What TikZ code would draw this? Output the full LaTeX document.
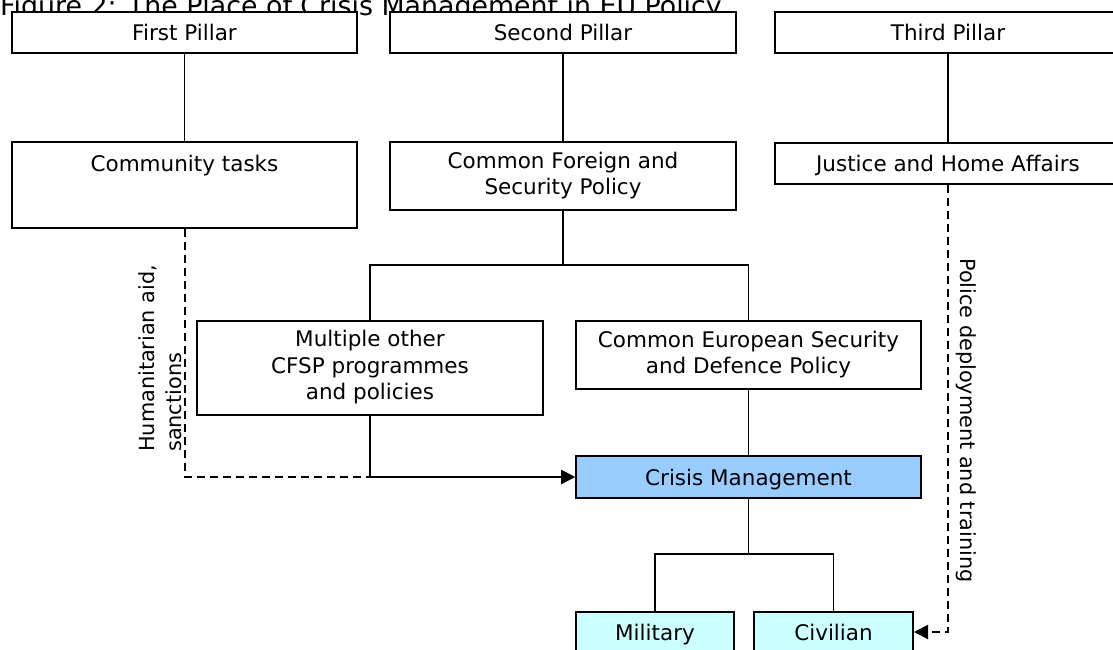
\documentclass[tikz,border=0pt]{standalone}
\usepackage{fontspec}
\setmainfont{DejaVu Sans}
\usetikzlibrary{arrows.meta}
\definecolor{cmblue}{HTML}{99CCFF}
\definecolor{cyanbox}{HTML}{CCFFFF}
\newcommand\topst{\rule{0pt}{22pt}}
\newcommand\botst[1]{\rule[-#1]{0pt}{#1}}
\tikzset{
  boxbase/.style={draw=black, line width=2pt, fill=white, inner sep=0pt, align=center,
    font=\fontsize{21.5}{26.3}\selectfont},
  box/.style={boxbase, execute at begin node=\topst, execute at end node=\botst{6pt}},
  conn/.style={line width=1.8pt},
  dconn/.style={line width=2pt, dash pattern=on 8pt off 5pt},
  tip/.style={-{Triangle[length=14pt,width=14pt]}},
  lbl/.style={inner sep=0pt, font=\fontsize{20.8}{27}\selectfont}
}
\begin{document}
\begin{tikzpicture}[x=1pt,y=-1pt]
\clip (0,0) rectangle (1113,650);
\fill[white] (0,0) rectangle (1113,650);
\node[lbl, anchor=base west, font=\fontsize{26.8}{30}\selectfont] (title) at (0,16) {Figure 2: The Place of Crisis Management in EU Policy};
% first row
\node[box, minimum width=345, minimum height=41] (p1) at (184.5,32.5) {First Pillar};
\node[box, minimum width=346, minimum height=41] (p2) at (563,32.5) {Second Pillar};
\node[box, minimum width=346, minimum height=41] (p3) at (948,32.5) {Third Pillar};
% second row
\node[boxbase, minimum width=345, minimum height=86] (ct) at (184.5,185) {\topst Community tasks\botst{48.6pt}};
\node[box, minimum width=346, minimum height=68] (cfsp) at (563,176) {Common Foreign and\\Security Policy};
\node[box, minimum width=346, minimum height=41] (jha) at (948,163.5) {Justice and Home Affairs};
% third row
\node[box, minimum width=346, minimum height=94] (mult) at (370,368) {Multiple other\\CFSP programmes\\and policies};
\node[box, minimum width=345, minimum height=68] (cesdp) at (748.5,355) {Common European Security\\and Defence Policy};
\node[box, fill=cmblue, minimum width=345, minimum height=42] (cm) at (748.5,477) {Crisis Management};
\node[box, fill=cyanbox, minimum width=158, minimum height=40] (mil) at (655,632) {Military};
\node[box, fill=cyanbox, minimum width=159, minimum height=40] (civ) at (833.5,632) {Civilian};
\coordinate (split) at (563,265);
\coordinate (split2) at (748.5,554);
% connectors
\draw[conn] (p1.south) -- (ct.north);
\draw[conn] (p2.south) -- (cfsp.north);
\draw[conn] (p3.south) -- (jha.north);
\draw[conn] (cfsp.south) -- (split);
\draw[conn] (mult.north) |- (split) -| (cesdp.north);
\draw[conn] (cesdp.south) -- (cm.north);
\draw[conn] (cm.south) -- (split2);
\draw[conn] (mil.north) |- (split2) -| (civ.north);
\draw[dconn, tip] (ct.south) |- (cm.west);
\draw[conn, tip] (mult.south) |- (cm.west);
\draw[dconn, tip] (jha.south) |- (civ.east);
% labels
\node[lbl, rotate=90, anchor=west, align=left] (hum) at (160,452) {Humanitarian aid,\\sanctions};
\node[lbl, rotate=-90, anchor=west] (pol) at (966,258) {Police deployment and training};
\end{tikzpicture}
\end{document}
